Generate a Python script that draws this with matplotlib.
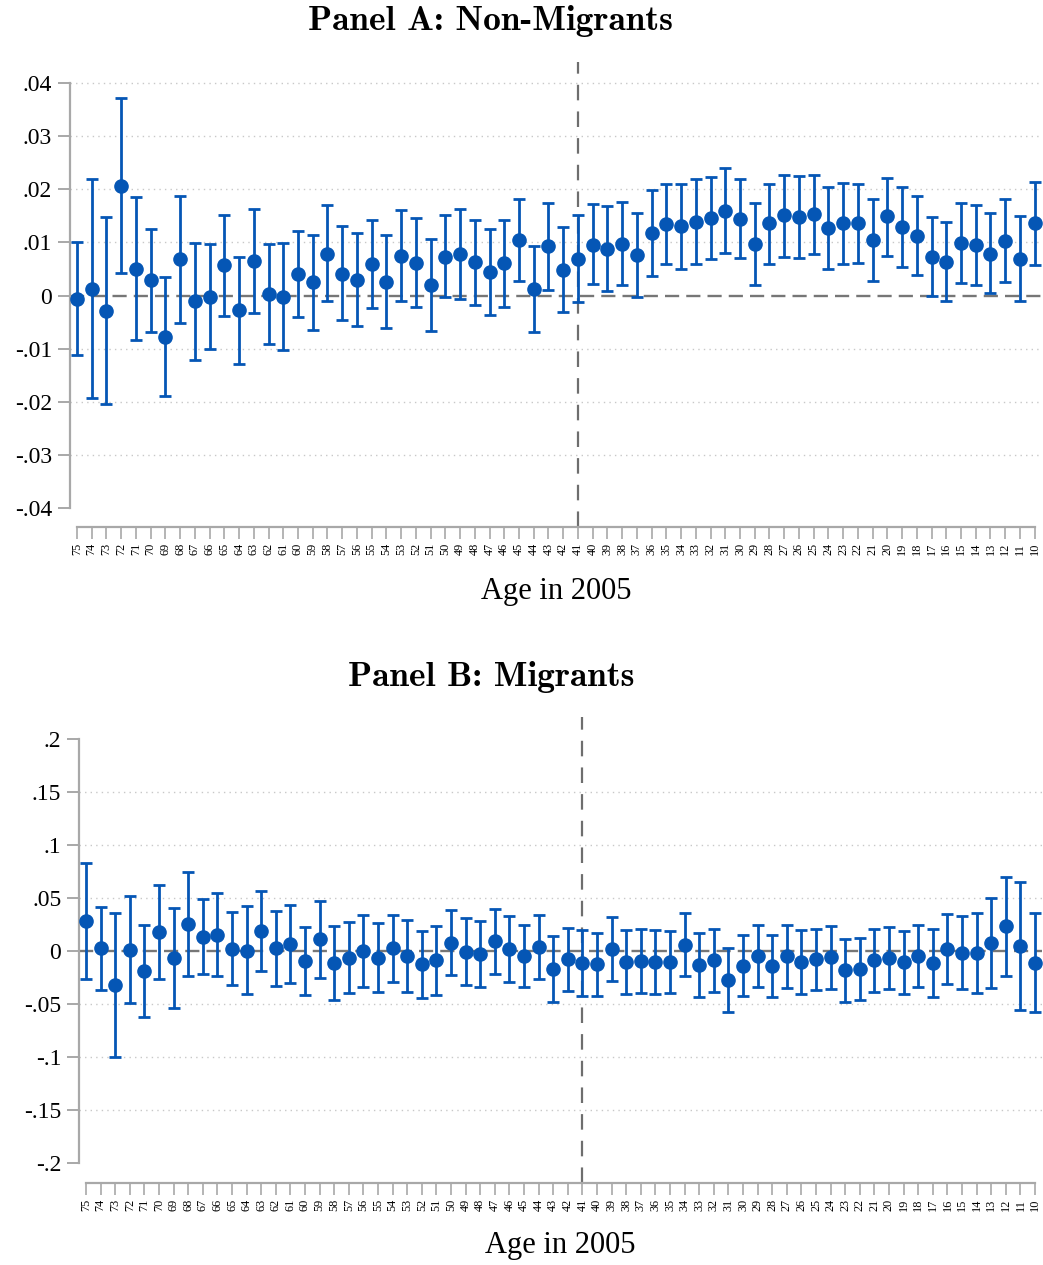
import matplotlib
matplotlib.use("Agg")
import matplotlib.pyplot as plt

ages = list(range(75, 9, -1))

# Panel A: Non-Migrants (ages 75 -> 10)
coef_a = [-0.0006, 0.0012, -0.0029, 0.0207, 0.0050, 0.0029, -0.0078, 0.0068, -0.0011, -0.0002,
          0.0057, -0.0028, 0.0065, 0.0003, -0.0002, 0.0041, 0.0025, 0.0079, 0.0041, 0.0030,
          0.0060, 0.0026, 0.0075, 0.0062, 0.0020, 0.0073, 0.0079, 0.0063, 0.0045, 0.0062,
          0.0104, 0.0012, 0.0093, 0.0048, 0.0068, 0.0096, 0.0088, 0.0098, 0.0077, 0.0117,
          0.0134, 0.0131, 0.0139, 0.0146, 0.0160, 0.0145, 0.0097, 0.0136, 0.0151, 0.0148,
          0.0153, 0.0128, 0.0137, 0.0136, 0.0104, 0.0149, 0.0129, 0.0113, 0.0073, 0.0064,
          0.0099, 0.0095, 0.0079, 0.0103, 0.0068, 0.0136]
hi_a = [0.0100, 0.0219, 0.0148, 0.0373, 0.0185, 0.0126, 0.0035, 0.0187, 0.0099, 0.0098,
        0.0151, 0.0073, 0.0164, 0.0097, 0.0099, 0.0122, 0.0115, 0.0170, 0.0131, 0.0117,
        0.0143, 0.0114, 0.0162, 0.0146, 0.0106, 0.0151, 0.0163, 0.0143, 0.0126, 0.0142,
        0.0182, 0.0094, 0.0174, 0.0129, 0.0151, 0.0172, 0.0168, 0.0176, 0.0156, 0.0198,
        0.0210, 0.0210, 0.0219, 0.0223, 0.0240, 0.0219, 0.0174, 0.0211, 0.0228, 0.0225,
        0.0227, 0.0204, 0.0213, 0.0211, 0.0181, 0.0222, 0.0205, 0.0187, 0.0148, 0.0138,
        0.0174, 0.0170, 0.0155, 0.0182, 0.0149, 0.0214]
lo_a = [-0.0113, -0.0194, -0.0205, 0.0042, -0.0084, -0.0068, -0.0190, -0.0051, -0.0121, -0.0101,
        -0.0038, -0.0129, -0.0033, -0.0092, -0.0102, -0.0040, -0.0065, -0.0011, -0.0047, -0.0057,
        -0.0024, -0.0061, -0.0011, -0.0021, -0.0067, -0.0003, -0.0006, -0.0018, -0.0036, -0.0021,
        0.0028, -0.0069, 0.0011, -0.0031, -0.0013, 0.0021, 0.0008, 0.0019, -0.0003, 0.0036,
        0.0059, 0.0050, 0.0060, 0.0068, 0.0080, 0.0070, 0.0019, 0.0060, 0.0073, 0.0070,
        0.0079, 0.0050, 0.0060, 0.0061, 0.0027, 0.0075, 0.0053, 0.0039, -0.0001, -0.0010,
        0.0024, 0.0019, 0.0004, 0.0026, -0.0011, 0.0058]

# Panel B: Migrants
coef_b = [0.0280, 0.0022, -0.0327, 0.0009, -0.0195, 0.0179, -0.0072, 0.0248, 0.0132, 0.0151,
          0.0019, 0.0000, 0.0189, 0.0022, 0.0063, -0.0101, 0.0107, -0.0116, -0.0066, -0.0006,
          -0.0066, 0.0025, -0.0047, -0.0129, -0.0091, 0.0075, -0.0013, -0.0035, 0.0091, 0.0013,
          -0.0050, 0.0038, -0.0173, -0.0082, -0.0119, -0.0126, 0.0019, -0.0104, -0.0094, -0.0104,
          -0.0110, 0.0053, -0.0138, -0.0088, -0.0280, -0.0142, -0.0047, -0.0142, -0.0050, -0.0107,
          -0.0079, -0.0063, -0.0182, -0.0173, -0.0085, -0.0072, -0.0110, -0.0050, -0.0116, 0.0016,
          -0.0019, -0.0022, 0.0069, 0.0230, 0.0047, -0.0116]
hi_b = [0.0827, 0.0415, 0.0358, 0.0513, 0.0239, 0.0616, 0.0406, 0.0742, 0.0484, 0.0547,
        0.0368, 0.0418, 0.0566, 0.0377, 0.0431, 0.0220, 0.0469, 0.0236, 0.0267, 0.0336,
        0.0258, 0.0340, 0.0292, 0.0189, 0.0236, 0.0384, 0.0305, 0.0277, 0.0396, 0.0324,
        0.0242, 0.0336, 0.0135, 0.0214, 0.0195, 0.0167, 0.0318, 0.0198, 0.0208, 0.0198,
        0.0186, 0.0355, 0.0164, 0.0204, 0.0025, 0.0148, 0.0242, 0.0151, 0.0239, 0.0192,
        0.0208, 0.0230, 0.0113, 0.0123, 0.0208, 0.0223, 0.0189, 0.0245, 0.0204, 0.0349,
        0.0324, 0.0358, 0.0494, 0.0695, 0.0648, 0.0352]
lo_b = [-0.0270, -0.0374, -0.1000, -0.0491, -0.0629, -0.0264, -0.0544, -0.0239, -0.0223, -0.0242,
        -0.0327, -0.0409, -0.0189, -0.0330, -0.0305, -0.0418, -0.0255, -0.0469, -0.0403, -0.0346,
        -0.0390, -0.0299, -0.0393, -0.0447, -0.0418, -0.0233, -0.0327, -0.0343, -0.0217, -0.0296,
        -0.0346, -0.0267, -0.0481, -0.0381, -0.0428, -0.0425, -0.0283, -0.0406, -0.0399, -0.0406,
        -0.0403, -0.0242, -0.0437, -0.0390, -0.0582, -0.0431, -0.0343, -0.0440, -0.0349, -0.0406,
        -0.0371, -0.0358, -0.0481, -0.0469, -0.0387, -0.0362, -0.0412, -0.0343, -0.0434, -0.0314,
        -0.0365, -0.0396, -0.0349, -0.0236, -0.0563, -0.0582]

yticks_a = [0.04, 0.03, 0.02, 0.01, 0, -0.01, -0.02, -0.03, -0.04]
ylabels_a = [".04", ".03", ".02", ".01", "0", "-.01", "-.02", "-.03", "-.04"]
yticks_b = [0.2, 0.15, 0.1, 0.05, 0, -0.05, -0.1, -0.15, -0.2]
ylabels_b = [".2", ".15", ".1", ".05", "0", "-.05", "-.1", "-.15", "-.2"]

W, H = 1043, 1265
BLUE = "#0556b5"
AXGRAY = "#a8a8a8"
SERIF = ["Liberation Serif", "DejaVu Serif"]


def px_axes(fig, left, right, top, bottom):
    return fig.add_axes([left / W, 1 - bottom / H, (right - left) / W, (bottom - top) / H])


def draw_panel(ax, coef, lo, hi, yticks, ylabels, ylim, grid_ticks):
    x = list(range(len(ages)))
    err = [[c - l for c, l in zip(coef, lo)], [h - c for c, h in zip(coef, hi)]]
    ax.errorbar(x, coef, yerr=err, fmt="o", color=BLUE, ms=9.5, elinewidth=2.0,
                capsize=4.5, capthick=2.0, zorder=3)
    for g in grid_ticks:
        ax.axhline(g, color="#c8c8c8", lw=1.0, ls=(0, (1, 3)), zorder=1)
    ax.axhline(0, color="#767676", lw=1.7, ls=(0, (6, 3)), zorder=2)
    ax.axvline(ages.index(41), color="#6e6e6e", lw=1.6, ls=(0, (7, 5)), zorder=2)

    ax.set_xlim(-0.5, len(ages) - 0.5)
    ax.set_ylim(*ylim)
    ax.set_yticks(yticks)
    ax.set_yticklabels(ylabels, fontfamily=SERIF, fontsize=17)
    ax.set_xticks(x)
    ax.set_xticklabels([str(a) for a in ages], rotation=90, fontfamily=SERIF, fontsize=8.8)

    for s in ["top", "right"]:
        ax.spines[s].set_visible(False)
    ax.spines["left"].set_bounds(yticks[-1], yticks[0])
    ax.spines["bottom"].set_bounds(0, len(ages) - 1)
    for s in ["left", "bottom"]:
        ax.spines[s].set_color(AXGRAY)
        ax.spines[s].set_linewidth(1.6)
    ax.tick_params(axis="y", length=8.5, width=1.4, color=AXGRAY, pad=4)
    ax.tick_params(axis="x", length=8.5, width=1.2, color=AXGRAY, pad=3)


fig = plt.figure(figsize=(W / 100, H / 100), dpi=100)

ax1 = px_axes(fig, 69.6, 1042, 62, 527)
draw_panel(ax1, coef_a, lo_a, hi_a, yticks_a, ylabels_a, (-0.04364, 0.04402),
           [0.04, 0.03, 0.02, 0.01, -0.01, -0.02, -0.03])

ax2 = px_axes(fig, 78.7, 1042.3, 717, 1183)
draw_panel(ax2, coef_b, lo_b, hi_b, yticks_b, ylabels_b, (-0.2192, 0.2205),
           [0.15, 0.1, 0.05, -0.05, -0.1, -0.15])

title_font = ["cmb10", "DejaVu Serif"]
fig.text(491 / W, 1 - 21 / H, "Panel A: Non-Migrants", ha="center", va="center",
         fontfamily=title_font, fontsize=25.5)
fig.text(491 / W, 1 - 677 / H, "Panel B: Migrants", ha="center", va="center",
         fontfamily=title_font, fontsize=25.5)
fig.text(556 / W, 1 - 591 / H, "Age in 2005", ha="center", va="center",
         fontfamily=SERIF, fontsize=22)
fig.text(560 / W, 1 - 1245 / H, "Age in 2005", ha="center", va="center",
         fontfamily=SERIF, fontsize=22)

fig.savefig("out.png", dpi=100, facecolor="white")
